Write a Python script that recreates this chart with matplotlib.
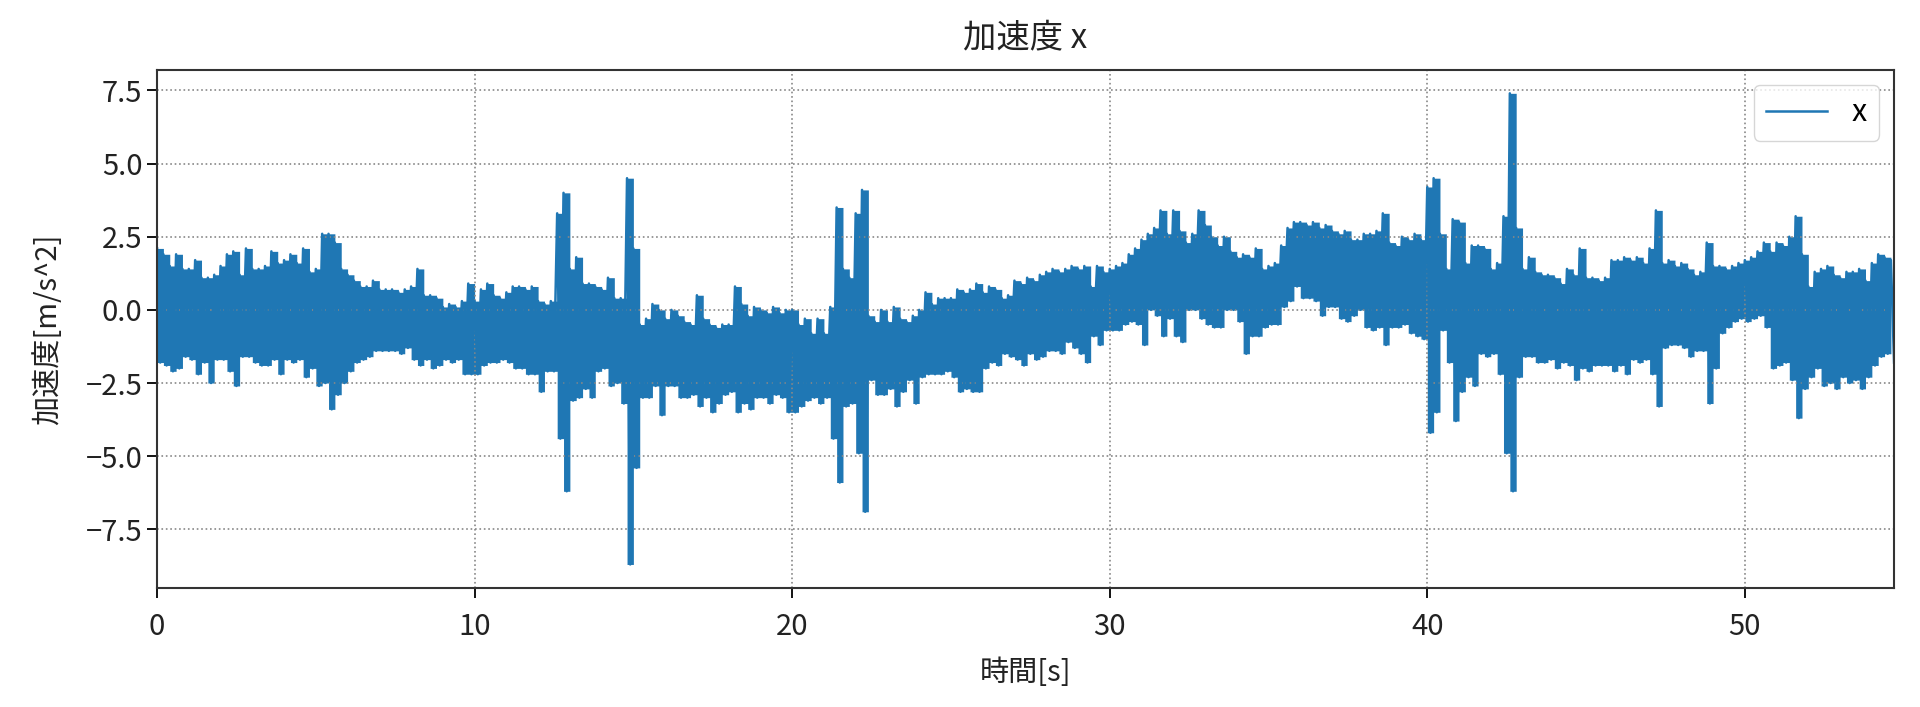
# ============================================================
# 加速度 x - accelerometer trace
# ============================================================

import numpy as np
import matplotlib.pyplot as plt
from matplotlib.ticker import MultipleLocator

plt.rcParams['font.family'] = ['Noto Sans CJK JP', 'DejaVu Sans']
plt.rcParams['axes.unicode_minus'] = True

# --- DATA ---
# peak / trough of the signal in each 0.2 s block, starting at t = 0.0 s
BLOCK = 0.2   # block length [s]

upper = [
    2.1, 1.9, 1.5, 1.9, 1.4,   1.4, 1.7, 1.1, 1.1, 1.2,
    1.5, 1.9, 2.0, 1.2, 2.1,   1.4, 1.4, 1.5, 2.0, 1.6,
    1.7, 1.9, 1.6, 2.1, 1.3,   1.4, 2.6, 2.6, 2.3, 1.4,
    1.2, 1.0, 0.8, 0.8, 1.0,   0.7, 0.7, 0.7, 0.6, 0.7,
    0.8, 1.4, 0.5, 0.5, 0.4,   0.1, 0.2, 0.1, 0.3, 0.9,
    0.3, 0.7, 0.9, 0.5, 0.4,   0.6, 0.8, 0.8, 0.7, 0.8,
    0.3, 0.2, 0.3, 3.3, 4.0,   1.4, 1.8, 0.9, 0.9, 0.8,
    0.7, 1.1, 0.4, 0.4, 4.5,   2.1, -0.5, -0.3, 0.2, 0.0,
    -0.3, 0.0, -0.2, -0.4, -0.5,   0.5, -0.3, -0.5, -0.6, -0.5,
    -0.5, 0.8, 0.2, -0.2, 0.1,   0.0, -0.1, 0.1, -0.1, 0.0,
    0.0, -0.5, -0.3, -0.8, -0.3,   -0.8, 0.1, 3.5, 1.4, 1.1,
    3.3, 4.1, -0.2, -0.4, 0.0,   -0.4, 0.1, -0.3, -0.4, -0.2,
    0.0, 0.6, 0.2, 0.4, 0.4,   0.4, 0.7, 0.6, 0.7, 0.9,
    0.6, 0.8, 0.7, 0.4, 0.5,   1.0, 0.9, 1.1, 1.0, 1.2,
    1.3, 1.4, 1.3, 1.4, 1.5,   1.4, 1.5, 0.8, 1.5, 1.3,
    1.4, 1.5, 1.6, 1.9, 2.1,   2.4, 2.6, 2.8, 3.4, 2.6,
    3.4, 2.7, 2.3, 2.6, 3.4,   2.9, 2.5, 2.2, 2.5, 2.0,
    1.8, 1.9, 1.8, 2.1, 1.4,   1.5, 1.6, 2.2, 2.8, 3.0,
    3.0, 2.9, 3.0, 2.8, 2.9,   2.7, 2.6, 2.7, 2.4, 2.4,
    2.6, 2.6, 2.7, 3.3, 2.3,   2.2, 2.5, 2.4, 2.6, 2.4,
    4.2, 4.5, 2.6, 1.4, 3.1,   3.0, 1.6, 2.2, 2.2, 2.1,
    1.4, 1.6, 3.2, 7.4, 2.8,   1.4, 1.8, 1.3, 1.2, 1.2,
    1.1, 0.9, 1.4, 1.2, 2.1,   1.1, 1.1, 1.0, 1.1, 1.7,
    1.7, 1.8, 1.7, 1.8, 1.6,   2.1, 3.4, 1.6, 1.7, 1.5,
    1.6, 1.4, 1.2, 1.3, 2.3,   1.5, 1.5, 1.4, 1.5, 1.6,
    1.7, 1.8, 2.0, 2.3, 2.0,   2.3, 2.2, 2.5, 3.2, 1.9,
    0.8, 1.3, 1.4, 1.5, 1.2,   1.1, 1.3, 1.3, 1.4, 1.0,
    1.6, 1.9, 1.8, 1.7,
]

lower = [
    -1.8, -1.9, -2.1, -2.0, -1.6,   -1.7, -2.2, -1.8, -2.5, -1.7,
    -1.7, -2.1, -2.6, -1.6, -1.6,   -1.8, -1.9, -1.9, -1.7, -2.2,
    -1.7, -1.8, -1.7, -2.3, -2.0,   -2.6, -2.5, -3.4, -2.9, -2.5,
    -2.1, -1.8, -1.7, -1.6, -1.4,   -1.4, -1.4, -1.4, -1.5, -1.3,
    -1.7, -1.9, -1.7, -2.0, -1.9,   -1.7, -1.8, -1.7, -2.2, -2.2,
    -2.2, -1.9, -1.8, -1.8, -1.7,   -1.8, -2.0, -2.0, -2.2, -2.2,
    -2.8, -2.1, -2.1, -4.4, -6.2,   -3.1, -3.0, -2.7, -3.0, -2.1,
    -2.0, -2.6, -2.5, -3.2, -8.7,   -5.4, -3.0, -3.0, -2.6, -3.6,
    -2.6, -2.6, -3.0, -3.0, -2.9,   -3.3, -3.0, -3.5, -3.2, -2.9,
    -2.8, -3.5, -3.2, -3.4, -3.0,   -3.0, -3.2, -2.9, -3.0, -3.5,
    -3.5, -3.3, -3.1, -3.0, -3.2,   -3.0, -4.4, -5.9, -3.3, -3.2,
    -4.9, -6.9, -2.4, -2.9, -2.9,   -2.7, -3.3, -2.8, -2.4, -3.2,
    -2.3, -2.2, -2.2, -2.2, -2.1,   -2.3, -2.8, -2.7, -2.8, -2.8,
    -2.0, -1.8, -1.9, -1.5, -1.6,   -1.7, -1.9, -1.5, -1.7, -1.6,
    -1.4, -1.4, -1.5, -1.1, -1.3,   -1.5, -1.8, -0.9, -1.2, -0.7,
    -0.7, -0.7, -0.5, -0.4, -0.5,   -1.2, 0.0, -0.2, -0.9, -0.3,
    -0.9, -1.1, 0.0, 0.0, -0.3,   -0.5, -0.6, -0.6, 0.0, 0.0,
    -0.4, -1.5, -0.9, -0.9, -0.6,   -0.5, -0.5, 0.1, 0.3, 0.8,
    0.4, 0.4, 0.3, -0.2, 0.1,   0.1, -0.3, -0.4, -0.2, 0.0,
    -0.6, -0.7, -0.6, -1.2, -0.6,   -0.6, -0.5, -0.8, -0.9, -1.0,
    -4.2, -3.5, -0.7, -1.8, -3.8,   -2.8, -2.3, -2.6, -1.5, -1.6,
    -1.5, -2.2, -4.9, -6.2, -2.3,   -1.6, -1.6, -1.8, -1.8, -1.7,
    -2.0, -1.8, -1.9, -2.4, -2.0,   -2.1, -1.9, -1.9, -1.9, -2.1,
    -1.9, -2.2, -1.7, -1.8, -1.7,   -2.2, -3.3, -1.3, -1.2, -1.2,
    -1.3, -1.6, -1.4, -1.4, -3.2,   -2.0, -0.8, -0.6, -0.4, -0.3,
    -0.4, -0.3, -0.2, -0.6, -2.0,   -1.9, -1.8, -2.4, -3.7, -2.7,
    -2.3, -2.0, -2.6, -2.5, -2.7,   -2.3, -2.5, -2.4, -2.7, -2.3,
    -1.9, -1.6, -1.5, -1.8,
]

# --- SIGNAL: peak and trough alternate inside every block ---
block_t = np.arange(len(upper)) * BLOCK
acc_x = np.column_stack([upper, lower]).ravel()
time = np.arange(len(acc_x)) * BLOCK / 2

# --- PLOT ---
color = '#1f77b4'
fig = plt.figure(figsize=(19.2, 7.07), dpi=100)
ax = fig.add_axes([0.0818, 0.1683, 0.9047, 0.733])

# the real trace is far denser than the picture can show: shade the band
ax.fill_between(block_t, lower, upper, step='post', color=color, linewidth=0)
ax.plot(time, acc_x, color=color, linewidth=1.8, label='x')
ax.set_xlim(0, time[-1])
ax.yaxis.set_major_locator(MultipleLocator(2.5))

ax.set_title('加速度 x', fontsize=24, pad=16, color='#222222')
ax.set_xlabel('時間[s]', fontsize=21, labelpad=12, color='#222222')
ax.set_ylabel('加速度[m/s^2]', fontsize=21, labelpad=16, color='#222222')
ax.tick_params(labelsize=21, length=7, width=1.3, labelcolor='#222222')
ax.tick_params(axis='x', pad=10)
ax.grid(True, linestyle=':', color='#888888', linewidth=1.2)
for s in ax.spines.values():
    s.set_linewidth(1.5)
    s.set_color('#333333')
ax.legend(loc='upper right', fontsize=22)

fig.savefig('out.png', dpi=100)
